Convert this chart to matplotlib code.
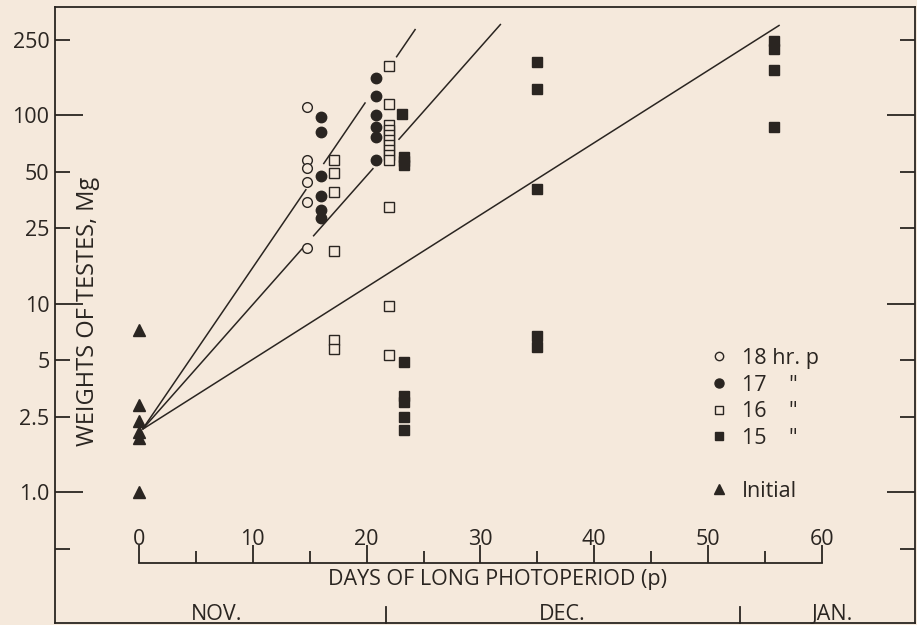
#!/usr/bin/env python3
import numpy as np
import matplotlib
matplotlib.use("Agg")
import matplotlib.pyplot as plt
from matplotlib.lines import Line2D
from matplotlib.ticker import FixedLocator, FixedFormatter

# --- data (days of long photoperiod, testes weight in mg) ---
hr18_days = [14.8, 14.8, 14.8, 14.8, 14.8, 14.8]
hr18_wt = [110, 57.5, 52.5, 44, 34.5, 19.6]

hr17_days = [16.0, 16.0, 16.0, 16.0, 16.0, 16.0,
             20.8, 20.8, 20.8, 20.8, 20.8, 20.8]
hr17_wt = [98, 81, 47.5, 37, 31.5, 28.5,
           158, 126, 100, 86, 76, 57.5]

hr16_days = [17.1, 17.1, 17.1, 17.1, 17.1, 17.1,
             22.0, 22.0, 22.0, 22.0, 22.0, 22.0, 22.0,
             22.0, 22.0, 22.0, 22.0, 22.0, 22.0]
hr16_wt = [57.5, 49, 39, 19.1, 6.4, 5.75,
           183, 115, 88.5, 83, 78, 73.5, 69,
           65, 61.5, 57.5, 32.5, 9.7, 5.3]

hr15_days = [23.1, 23.3, 23.3, 23.3, 23.3, 23.3, 23.3, 23.3, 23.3,
             35.0, 35.0, 35.0, 35.0, 35.0,
             55.8, 55.8, 55.8, 55.8]
hr15_wt = [101, 60, 57, 54.3, 4.9, 3.25, 3.0, 2.5, 2.12,
           190, 137, 40.5, 6.7, 5.9,
           248, 224, 173, 86.5]

initial_days = [0, 0, 0, 0, 0, 0]
initial_wt = [7.2, 2.9, 2.37, 2.08, 1.93, 1.0]

# fitted lines: common start, separate end points
fit_start = (0.3, 2.15)
fit_end_days = [24.3, 31.8, 56.3]
fit_end_wt = [286, 304, 300]
# gaps left in each line where it crosses the point clusters (days)
fit_gaps = [[(14.7, 16.2), (19.9, 22.6)],
            [(14.7, 15.3), (20.6, 22.8)],
            []]

y_ticks_major = [1, 10, 100]
y_labels_major = ["1.0", "10", "100"]
y_ticks_minor = [0.5, 2.5, 5, 25, 50, 250]
y_labels_minor = ["", "2.5", "5", "25", "50", "250"]
day_ticks = [0, 10, 20, 30, 40, 50, 60]
day_minor = [5, 15, 25, 35, 45, 55]
months = ["NOV.", "DEC.", "JAN."]
month_centres = [6.85, 37.2, 60.9]
month_breaks = [21.7, 52.8]

BG = "#f5e9dc"
INK = "#2a2521"
plt.rcParams["font.family"] = ["Open Sans", "DejaVu Sans"]
FS = 15.5

W, H = 917, 625
fig = plt.figure(figsize=(W / 100, H / 100), dpi=100, facecolor=BG)

# pixel geometry of the frame
x0_px, px_per_day = 139, 11.38
y1_px, px_per_dec = 492, 188.5
left_px, right_px, top_px, bot_px = 55, 915, 7, 623

ax = fig.add_axes([left_px / W, 1 - bot_px / H, (right_px - left_px) / W,
                   (bot_px - top_px) / H])
ax.set_facecolor(BG)
ax.set_yscale("log")
ax.set_xlim((left_px - x0_px) / px_per_day, (right_px - x0_px) / px_per_day)
ax.set_ylim(10 ** ((y1_px - bot_px) / px_per_dec), 10 ** ((y1_px - top_px) / px_per_dec))
for s in ax.spines.values():
    s.set_linewidth(1.3)
    s.set_color(INK)
ax.set_xticks([])

ax.yaxis.set_major_locator(FixedLocator(y_ticks_major))
ax.yaxis.set_major_formatter(FixedFormatter(y_labels_major))
ax.yaxis.set_minor_locator(FixedLocator(y_ticks_minor))
ax.yaxis.set_minor_formatter(FixedFormatter(y_labels_minor))
ax.tick_params(axis="y", which="both", direction="in", left=True, right=True,
               width=1.3, color=INK, labelsize=FS, labelcolor=INK, pad=4)
ax.tick_params(axis="y", which="major", length=20)
ax.tick_params(axis="y", which="minor", length=11)

# fitted lines (straight on log scale)
lx0, ly0 = fit_start
for xe, ye, gaps in zip(fit_end_days, fit_end_wt, fit_gaps):
    slope = (np.log10(ye) - np.log10(ly0)) / (xe - lx0)
    edges = [lx0]
    for a, b in gaps:
        edges += [a, b]
    edges.append(xe)
    for a, b in zip(edges[::2], edges[1::2]):
        xs = np.array([a, b])
        ax.plot(xs, ly0 * 10 ** (slope * (xs - lx0)), color=INK, lw=1.1,
                solid_capstyle="butt", zorder=2)

mk = dict(linestyle="none", markeredgecolor=INK, markeredgewidth=1.0, zorder=3)
ax.plot(hr18_days, hr18_wt, marker="o", markersize=7, markerfacecolor=BG, **mk)
ax.plot(hr17_days, hr17_wt, marker="o", markersize=7.5, markerfacecolor=INK, **mk)
ax.plot(hr16_days, hr16_wt, marker="s", markersize=6.5, markerfacecolor=BG, **mk)
ax.plot(hr15_days, hr15_wt, marker="s", markersize=6.5, markerfacecolor=INK, **mk)
ax.plot(initial_days, initial_wt, marker="^", markersize=8, markerfacecolor=INK, **mk)

# inner day axis
day_px = 563
ax2 = fig.add_axes([left_px / W, 1 - (day_px + 1) / H, (right_px - left_px) / W, 1 / H])
ax2.set_xlim(ax.get_xlim())
ax2.patch.set_visible(False)
for k in ("left", "right", "bottom"):
    ax2.spines[k].set_visible(False)
ax2.spines["top"].set_bounds(day_ticks[0], day_ticks[-1])
ax2.spines["top"].set_linewidth(1.3)
ax2.spines["top"].set_color(INK)
ax2.set_yticks([])
ax2.set_xticks(day_ticks)
ax2.set_xticks(day_minor, minor=True)
ax2.xaxis.set_ticks_position("top")
ax2.tick_params(axis="x", which="both", direction="out", top=True, bottom=False,
                labeltop=True, labelbottom=False, width=1.3, color=INK,
                labelsize=FS, labelcolor=INK, pad=-3.5)
ax2.tick_params(axis="x", which="major", length=13)
ax2.tick_params(axis="x", which="minor", length=9)

frac = lambda ypx: (bot_px - ypx) / (bot_px - top_px)
tr = ax.get_xaxis_transform()
ax.text((497 - x0_px) / px_per_day, frac(579), "DAYS OF LONG PHOTOPERIOD (p)",
        transform=tr, ha="center", va="center", fontsize=FS, color=INK)
for m, xc in zip(months, month_centres):
    ax.text(xc, frac(614), m, transform=tr, ha="center", va="center",
            fontsize=FS, color=INK)
for xb in month_breaks:
    ax.plot([xb, xb], [0, frac(607)], transform=tr, color=INK, lw=1.3,
            clip_on=False)

ax.text((88 - left_px) / (right_px - left_px), frac(311), "WEIGHTS OF TESTES, Mg",
        transform=ax.transAxes, rotation=90, ha="center", va="center",
        fontsize=FS + 1.5, color=INK)

# legend
lk = dict(linestyle="none", markeredgecolor=INK, markeredgewidth=1.0)
handles = [
    Line2D([], [], marker="o", markersize=6, markerfacecolor=BG, **lk),
    Line2D([], [], marker="o", markersize=6.5, markerfacecolor=INK, **lk),
    Line2D([], [], marker="s", markersize=5.5, markerfacecolor=BG, **lk),
    Line2D([], [], marker="s", markersize=5.5, markerfacecolor=INK, **lk),
    Line2D([], [], linestyle="none"),
    Line2D([], [], marker="^", markersize=7, markerfacecolor=INK, **lk),
]
labels = ['18 hr. p', '17    "', '16    "', '15    "', ' ', 'Initial']
ax.legend(handles, labels, loc="upper left",
          bbox_to_anchor=((711 - left_px) / (right_px - left_px), frac(348)),
          frameon=False, fontsize=FS, handlelength=0.7, handletextpad=0.75,
          labelspacing=0.26, borderpad=0, borderaxespad=0, labelcolor=INK)

fig.savefig("out.png", dpi=100, facecolor=BG)
